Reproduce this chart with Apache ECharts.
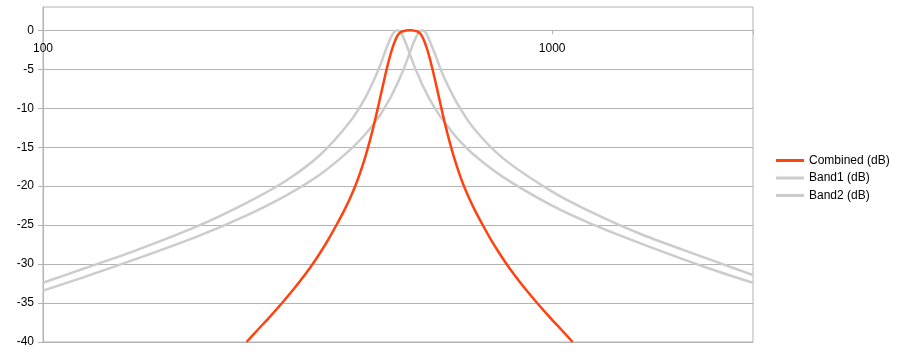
<!DOCTYPE html>
<html>
<head>
<meta charset="utf-8">
<script src="https://cdn.jsdelivr.net/npm/echarts@6/dist/echarts.min.js"></script>
<style>
html,body{margin:0;padding:0;background:#fff;}
#chart{width:900px;height:358px;}
</style>
</head>
<body>
<div id="chart"></div>
<script>
// ---- data ----
const xTicks = [100, 1000];
const yTicks = [-40, -35, -30, -25, -20, -15, -10, -5, 0];

const bandFreq = [100,120,150,200,250,300,350,400,430,450,460,470,480,485,490,496,503,510,517,525,532,540,547,555,563,570,580,590,605,620,650,700,800,1000,1200,1500,2000,2480];
const band1Db = [-32.4,-30.6,-28.4,-25.2,-22.2,-19.3,-16.0,-11.8,-8.6,-5.9,-4.4,-2.7,-1.2,-0.6,-0.2,0,-0.2,-0.9,-1.8,-3.0,-4.0,-5.1,-5.9,-6.9,-7.7,-8.4,-9.3,-10.1,-11.2,-12.1,-13.8,-15.9,-18.8,-22.5,-24.9,-27.4,-30.4,-32.4];
const band2Db = [-33.4,-31.7,-29.5,-26.5,-23.8,-21.2,-18.5,-15.4,-13.3,-11.7,-10.8,-9.8,-8.8,-8.2,-7.6,-6.9,-6.0,-5.1,-4.1,-2.9,-1.9,-0.9,-0.3,0,-0.2,-0.8,-2.0,-3.2,-5.1,-6.7,-9.3,-12.5,-16.4,-20.7,-23.4,-26.2,-29.2,-31.4];

const combinedFreq = [251.1,263.9,278.6,294.8,310.5,324.9,338.9,352.5,365.4,377.2,389.4,400.1,410.1,418.6,428.2,434.6,441.9,447.9,454.1,460.3,466.6,472.9,479.4,485.9,492.6,499.3,506.1,515.4,524.8,534.4,544.1,551.6,559.1,566.8,574.5,582.3,590.3,598.4,606.5,614.8,623.2,633.7,643.2,657.9,671.5,688.4,707.3,730.1,753.6,781.4,812.8,847.7,886.9,934.3,988.6,1043.8,1097.0];
const combinedDb = [-40,-38.46,-36.8,-34.99,-33.24,-31.6,-29.96,-28.26,-26.56,-24.95,-23.26,-21.67,-20.05,-18.48,-16.53,-15.09,-13.32,-11.77,-10.11,-8.4,-6.68,-5.03,-3.51,-2.22,-1.18,-0.48,-0.15,-0.03,0,-0.03,-0.15,-0.48,-1.18,-2.22,-3.51,-5.03,-6.68,-8.4,-10.11,-11.77,-13.32,-15.09,-16.53,-18.48,-20.05,-21.67,-23.26,-24.95,-26.56,-28.26,-29.96,-31.6,-33.24,-34.99,-36.8,-38.46,-40];

const seriesNames = ['Combined (dB)', 'Band1 (dB)', 'Band2 (dB)'];

function pairs(xs, ys) { return xs.map((x, i) => [x, ys[i]]); }

const FONT = '"Liberation Sans", Arial, sans-serif';
const GRID_TOP = 7, GRID_BOTTOM = 16, H = 358;
const Y_MIN = -40, Y_MAX = 3;
const gridH = H - GRID_TOP - GRID_BOTTOM;
// place the x axis on the 0 dB line
const xOffset = -gridH * (0 - Y_MIN) / (Y_MAX - Y_MIN);

const chart = echarts.init(document.getElementById('chart'), null, {renderer: 'canvas'});
chart.setOption({
  animation: false,
  backgroundColor: '#ffffff',
  textStyle: {fontFamily: FONT},
  grid: {left: 43, right: 147, top: GRID_TOP, bottom: GRID_BOTTOM, show: true, borderColor: '#b3b3b3', borderWidth: 1, backgroundColor: 'transparent'},
  legend: {
    orient: 'vertical', left: 776, top: 154, padding: 0,
    itemWidth: 28, itemHeight: 3, itemGap: 4.5, icon: 'rect',
    textStyle: {fontFamily: FONT, fontSize: 12, color: '#000', lineHeight: 13},
    data: seriesNames
  },
  xAxis: {
    type: 'log', logBase: 10, min: 100, max: 2480,
    position: 'bottom', offset: xOffset,
    axisLine: {show: true, onZero: false, lineStyle: {color: '#b3b3b3', width: 1}},
    axisTick: {show: true, length: 4, inside: false, lineStyle: {color: '#b3b3b3'}},
    axisLabel: {
      fontFamily: FONT, fontSize: 12, color: '#000', margin: 12,
      formatter: function (v) { const r = Math.round(v); return xTicks.indexOf(r) >= 0 ? String(r) : ''; }
    },
    splitLine: {show: false}, minorTick: {show: false}
  },
  yAxis: {
    type: 'value', min: Y_MIN, max: Y_MAX, interval: 5,
    axisLine: {show: true, lineStyle: {color: '#b3b3b3', width: 1}},
    axisTick: {show: true, length: 5, lineStyle: {color: '#b3b3b3'}, customValues: yTicks},
    axisLabel: {
      fontFamily: FONT, fontSize: 12, color: '#000', margin: 9, customValues: yTicks,
      formatter: function (v) { return yTicks.indexOf(v) >= 0 ? String(v) : ''; }
    },
    splitLine: {show: true, lineStyle: {color: '#b3b3b3', width: 1}}
  },
  series: [
    {name: seriesNames[0], type: 'line', data: pairs(combinedFreq, combinedDb), showSymbol: false, smooth: 0.3, z: 5,
     lineStyle: {color: '#ff420e', width: 2.5}, itemStyle: {color: '#ff420e'}},
    {name: seriesNames[1], type: 'line', data: pairs(bandFreq, band1Db), showSymbol: false, smooth: 0.3, z: 3,
     lineStyle: {color: '#cccccc', width: 2.5}, itemStyle: {color: '#cccccc'}},
    {name: seriesNames[2], type: 'line', data: pairs(bandFreq, band2Db), showSymbol: false, smooth: 0.3, z: 3,
     lineStyle: {color: '#cccccc', width: 2.5}, itemStyle: {color: '#cccccc'}}
  ]
});
</script>
</body>
</html>
